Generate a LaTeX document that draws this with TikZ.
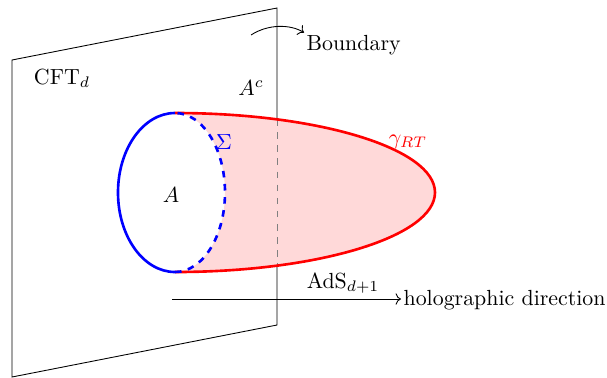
\documentclass[tikz,border=0pt]{standalone}
\usetikzlibrary{arrows.meta}
\begin{document}
\begin{tikzpicture}[x=0.457pt,y=-0.457pt,
  thin line/.style={black,line width=0.4pt},
  bold red/.style={red,line width=1.2pt},
  bold blue/.style={blue,line width=1.2pt},
  lbl/.style={inner sep=1pt}]
\useasboundingbox (0,0) rectangle (607,377);
% plane
\coordinate (p1) at (12,60);
\coordinate (p2) at (277,8);
\coordinate (p3) at (277,325);
\coordinate (p4) at (12,377);
\draw[thin line] (p1) -- (p2) -- (p3) -- (p4) -- cycle;
% surface fill
\coordinate (top) at (175,113);
\coordinate (bot) at (175,272);
\fill[red!15] (top) arc[start angle=-90,end angle=90,x radius=260,y radius=79.5]
  arc[start angle=90,end angle=-90,x radius=50,y radius=79.5] -- cycle;
% hidden plane edge
\coordinate (h1) at (277,119);
\coordinate (h2) at (277,266);
\draw[gray,dashed,line width=0.4pt] (h1) -- (h2);
% RT surface
\draw[bold red] (top) arc[start angle=-90,end angle=90,x radius=260,y radius=79.5];
% region A
\draw[bold blue] (top) arc[start angle=270,end angle=90,x radius=57,y radius=79.5];
\draw[bold blue,dashed] (bot) arc[start angle=90,end angle=-90,x radius=50,y radius=79.5];
% labels
\node[lbl] (cft) at (62,78) {CFT$_d$};
\node[lbl] (ac) at (251,88) {$A^c$};
\node[lbl] (a) at (171,195) {$A$};
\node[lbl,blue] (sig) at (224,142) {$\Sigma$};
\node[lbl,red] (gam) at (408,142) {$\gamma_{RT}$};
% boundary arrow
\coordinate (b0) at (251,35);
\node[lbl,anchor=west] (bnd) at (304,45) {Boundary};
\draw[thin line,->] (b0) .. controls (268,24) and (290,24) .. (bnd.north west);
% holographic direction
\coordinate (h0) at (172,299);
\node[lbl,anchor=west] (hd) at (401,300) {holographic direction};
\draw[thin line,->] (h0) -- (hd.west |- h0);
\node[lbl] (ads) at (343,283) {AdS$_{d+1}$};
\end{tikzpicture}
\end{document}
